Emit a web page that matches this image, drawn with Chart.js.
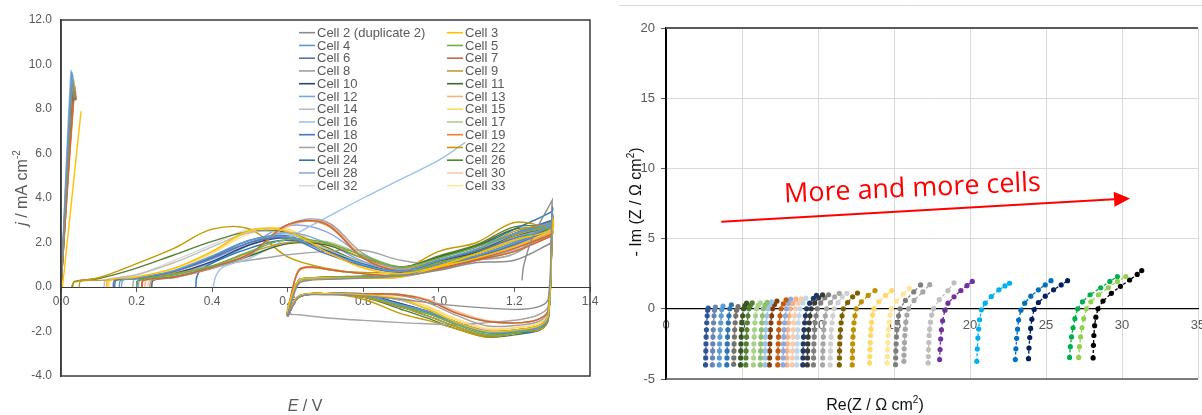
<!DOCTYPE html>
<html>
<head>
<meta charset="utf-8">
<script src="https://cdn.jsdelivr.net/npm/chart.js@4.4.1/dist/chart.umd.min.js"></script>
<style>
  body { margin:0; background:#fff; width:1202px; height:415px; overflow:hidden; position:relative; }
  #cvWrap { position:absolute; left:0; top:0; width:600px; height:415px; }
  #eisWrap { position:absolute; left:600px; top:0; width:602px; height:415px; }
</style>
</head>
<body>
<div id="cvWrap"><canvas id="cv" width="600" height="415"></canvas></div>
<div id="eisWrap"><canvas id="eis" width="602" height="415"></canvas></div>
<script>
// ---------- left: cyclic voltammograms ----------
const cvCells = ['Cell 2 (duplicate 2)','Cell 3','Cell 4','Cell 5','Cell 6','Cell 7','Cell 8','Cell 9','Cell 10','Cell 11','Cell 12','Cell 13','Cell 14','Cell 15','Cell 16','Cell 17','Cell 18','Cell 19','Cell 20','Cell 22','Cell 24','Cell 26','Cell 28','Cell 30','Cell 32','Cell 33'];
const cvColors = ['#8c8c8c','#ffc000','#5b9bd5','#70ad47','#5a74a8','#c8693a','#a0a0a0','#bf9b30','#264478','#43682b','#7ba7e0','#f4b183','#bfbfbf','#ffd966','#9dc3e6','#a9d18e','#4472c4','#ed7d31','#a5a5a5','#c49a00','#2e75b6','#548235','#8faadc','#f8cbad','#d9d9d9','#ffe699'];

// potentials (V) of the sweep segments
const gridF1 = [0.1,0.2,0.3,0.4,0.5,0.6,0.7,0.8,0.9,1.0,1.1,1.2,1.3];
const gridRev = [1.30,1.29,1.27,1.22,1.13,1.05,0.97,0.90,0.80,0.70,0.63,0.60];
const gridF2 = [0.61,0.63,0.66,0.72,0.80,0.90,1.00,1.10,1.20,1.30];

// initial spike near 0 V, [E, j]
const cvSpike = [
  [[0,0],[0.03,9.1],[0.036,8.6]], [[0.004,0],[0.053,7.9]], [[0,0],[0.028,9.6],[0.034,9.0]],
  [[0,0],[0.03,9.0],[0.036,8.5]], [[0,0],[0.03,8.9],[0.037,8.4]], [[0,0],[0.035,8.8],[0.04,8.4]],
  [[0,0],[0.03,9.3],[0.036,8.7]], [[0,0],[0.035,9.0],[0.04,8.5]], [[0,0],[0.033,8.9],[0.039,8.5]],
  [[0,0],[0.032,8.8],[0.038,8.4]], [[0,0],[0.028,9.4],[0.034,8.8]], [[0,0],[0.034,8.9],[0.04,8.5]],
  [[0,0],[0.03,9.2],[0.036,8.7]], [[0,0],[0.03,9.5],[0.037,8.9]], [[0,0],[0.026,9.7],[0.032,9.1]],
  [[0,0],[0.032,9.0],[0.038,8.6]], [[0,0],[0.03,9.0],[0.036,8.6]], [[0,0],[0.035,8.6],[0.04,8.4]],
  [[0,0],[0.03,9.1],[0.036,8.6]], [[0,0],[0.033,9.2],[0.039,8.7]], [[0,0],[0.03,9.4],[0.036,8.8]],
  [[0,0],[0.032,9.3],[0.037,8.8]], [[0,0],[0.029,9.5],[0.035,8.9]], [[0,0],[0.034,8.8],[0.04,8.4]],
  [[0,0],[0.03,9.3],[0.036,8.8]], [[0,0],[0.031,9.2],[0.037,8.7]]
];
// start of the first anodic sweep, [E, j]
const cvHead = [
  [[1.22,0.3],[1.225,1.0],[1.25,2.3]], [[0.121,0],[0.125,0.3]], [[0.154,0],[0.158,0.3]],
  [[0.2,0],[0.204,0.3]], [[0.138,0],[0.142,0.3]], [[0.213,0],[0.217,0.3]],
  [[0.235,0],[0.24,0.3]], [[0.048,0],[0.052,0.25]], [[0.2,0],[0.204,0.3]],
  [[0.24,0],[0.244,0.3]], [[0.16,0],[0.164,0.3]], [[0.222,0],[0.226,0.3]],
  [[0.114,0],[0.118,0.3]], [[0.125,0],[0.129,0.3]], [[0.403,0],[0.41,0.5],[0.43,0.9]],
  [[0.2,0],[0.205,0.3]], [[0.142,0],[0.146,0.3]], [[0.215,0],[0.219,0.3]],
  [[0.19,0],[0.195,0.35]], [[0.028,0],[0.035,0.22]], [[0.357,0],[0.36,0.5],[0.38,0.9]],
  [[0.03,0],[0.036,0.25]], [[0.205,0],[0.209,0.3]], [[0.23,0],[0.234,0.3]],
  [[0.12,0],[0.124,0.3]], [[0.128,0],[0.132,0.3]]
];
// j (mA cm-2) on gridF1
const cvFwd1 = [
  [null,null,null,null,null,null,null,null,null,null,null,null,3.9],
  [null,0.45,0.85,1.6,2.55,2.5,1.6,0.85,0.6,0.95,1.5,2.1,2.6],
  [null,0.4,0.75,1.4,2.1,2.25,1.6,1.0,0.7,1.2,1.7,2.4,2.9],
  [null,null,0.55,0.95,1.6,2.15,2.0,1.4,0.9,1.3,1.8,2.4,2.7],
  [null,0.38,0.7,1.3,2.0,2.2,1.5,0.95,0.7,1.2,1.6,2.2,2.6],
  [null,null,0.45,0.9,1.5,2.8,2.85,1.3,0.7,0.85,1.25,1.75,2.4],
  [null,null,0.42,0.85,1.45,2.8,2.95,1.5,0.8,0.9,1.3,2.0,2.8],
  [0.3,0.4,0.6,0.95,1.55,2.0,1.95,1.3,0.85,1.2,1.7,2.5,2.9],
  [null,null,0.6,1.15,1.9,2.2,1.65,1.0,0.7,1.15,1.6,2.3,2.9],
  [null,null,0.45,0.85,1.4,1.95,1.9,1.3,0.9,1.35,1.85,2.6,2.7],
  [null,0.4,0.7,1.25,2.0,2.45,2.0,1.15,0.75,1.1,1.55,2.2,2.8],
  [null,null,0.42,0.85,1.45,2.75,2.85,1.35,0.72,0.85,1.25,1.75,2.4],
  [null,0.55,1.1,1.8,2.45,2.4,1.7,1.1,0.85,1.1,1.5,2.2,2.7],
  [null,0.45,0.85,1.55,2.5,2.6,1.7,0.9,0.6,0.95,1.45,2.0,2.5],
  [null,null,null,null,1.3,2.2,3.1,4.0,4.85,5.7,null,null,null],
  [null,null,0.5,0.9,1.45,1.95,2.05,1.45,0.9,1.25,1.7,2.3,2.6],
  [null,0.38,0.7,1.35,2.1,2.3,1.6,0.95,0.65,1.2,1.7,2.4,3.0],
  [null,null,0.45,0.88,1.5,2.8,2.8,1.3,0.7,0.85,1.25,1.75,2.35],
  [null,null,0.65,0.95,1.2,1.45,1.6,1.65,1.2,1.0,1.2,1.5,3.0],
  [0.42,1.05,1.75,2.6,2.6,1.35,0.85,0.65,0.75,1.6,2.0,2.9,2.7],
  [null,null,null,null,1.75,2.1,1.7,1.05,0.7,1.3,1.8,2.6,3.4],
  [0.38,0.85,1.45,2.05,2.5,2.45,1.8,1.1,0.85,1.4,1.9,2.7,2.75],
  [null,null,0.6,1.1,1.9,2.75,2.5,1.4,0.8,1.1,1.5,2.1,2.6],
  [null,null,0.42,0.82,1.4,2.7,2.9,1.4,0.75,0.85,1.25,1.8,2.45],
  [null,0.55,1.2,1.9,2.6,2.35,1.6,1.0,0.8,1.1,1.5,2.2,2.7],
  [null,0.45,0.8,1.5,2.4,2.55,1.75,0.95,0.65,0.95,1.4,1.95,2.45]
];
// j on gridRev
const cvRev = [
  [3.9,-0.5,-0.85,-1.0,-0.95,-0.85,-0.7,-0.55,-0.4,-0.35,-0.45,-1.3],
  [3.1,-1.2,-1.7,-1.9,-2.0,-1.6,-1.0,-0.55,-0.35,-0.3,-0.4,-1.2],
  [3.3,-1.3,-1.8,-1.95,-2.05,-1.6,-1.1,-0.8,-0.35,-0.3,-0.45,-1.25],
  [2.9,-1.3,-1.8,-2.0,-2.15,-1.7,-1.2,-0.85,-0.4,-0.3,-0.45,-1.2],
  [2.8,-1.2,-1.7,-1.9,-2.0,-1.6,-1.1,-0.8,-0.35,-0.3,-0.4,-1.25],
  [2.6,-1.0,-1.4,-1.6,-1.55,-1.2,-0.6,-0.35,-0.3,-0.3,-0.45,-1.3],
  [2.9,-1.0,-1.5,-1.7,-1.75,-1.3,-0.7,-0.4,-0.3,-0.3,-0.45,-1.3],
  [3.1,-1.3,-1.8,-2.0,-2.2,-1.8,-1.3,-0.9,-0.45,-0.3,-0.4,-1.2],
  [3.1,-1.3,-1.8,-1.95,-2.05,-1.6,-1.1,-0.75,-0.35,-0.3,-0.45,-1.3],
  [2.9,-1.3,-1.8,-2.0,-2.2,-1.8,-1.3,-0.9,-0.45,-0.3,-0.4,-1.2],
  [3.0,-1.2,-1.7,-1.9,-2.0,-1.6,-1.1,-0.75,-0.35,-0.3,-0.45,-1.25],
  [2.5,-1.0,-1.4,-1.6,-1.55,-1.15,-0.6,-0.35,-0.3,-0.3,-0.45,-1.3],
  [2.8,-1.2,-1.7,-1.9,-1.95,-1.6,-1.0,-0.6,-0.35,-0.3,-0.4,-1.2],
  [2.7,-1.1,-1.6,-1.8,-1.9,-1.5,-0.9,-0.5,-0.35,-0.3,-0.4,-1.2],
  [],
  [2.7,-1.2,-1.7,-1.9,-2.1,-1.7,-1.2,-0.85,-0.4,-0.3,-0.4,-1.2],
  [3.2,-1.3,-1.8,-2.0,-2.1,-1.7,-1.15,-0.8,-0.35,-0.3,-0.45,-1.3],
  [2.5,-1.0,-1.4,-1.6,-1.55,-1.2,-0.6,-0.35,-0.3,-0.3,-0.45,-1.3],
  [3.0,-0.8,-1.2,-1.45,-1.6,-1.7,-1.65,-1.6,-1.5,-1.38,-1.25,-1.15],
  [3.0,-1.4,-1.9,-2.0,-2.25,-1.9,-1.5,-1.2,-0.55,-0.3,-0.4,-1.1],
  [3.6,-1.4,-1.9,-2.05,-2.1,-1.7,-1.2,-0.9,-0.4,-0.3,-0.45,-1.3],
  [2.9,-1.4,-1.9,-2.1,-2.25,-1.9,-1.4,-1.0,-0.45,-0.3,-0.4,-1.2],
  [2.8,-1.2,-1.7,-1.9,-2.0,-1.6,-1.0,-0.6,-0.35,-0.3,-0.45,-1.25],
  [2.6,-1.0,-1.4,-1.6,-1.5,-1.1,-0.55,-0.32,-0.3,-0.3,-0.45,-1.3],
  [2.9,-1.2,-1.7,-1.95,-2.0,-1.6,-1.0,-0.6,-0.35,-0.3,-0.4,-1.2],
  [2.6,-1.1,-1.6,-1.8,-1.85,-1.45,-0.85,-0.5,-0.35,-0.3,-0.4,-1.2]
];
// j on gridF2 (second anodic sweep)
const cvFwd2 = [
  [-0.7,0.15,0.3,0.35,0.4,0.5,0.75,1.1,1.2,2.0],
  [-0.4,0.3,0.4,0.4,0.4,0.45,0.9,1.3,1.8,2.5],
  [-0.5,0.3,0.4,0.4,0.4,0.5,1.0,1.4,2.0,2.8],
  [-0.45,0.3,0.4,0.45,0.45,0.55,1.1,1.5,2.1,2.7],
  [-0.5,0.3,0.4,0.4,0.4,0.5,0.95,1.35,1.9,2.6],
  [-0.3,0.75,0.9,0.75,0.6,0.5,0.8,1.2,1.6,2.3],
  [-0.5,0.3,0.4,0.4,0.4,0.45,0.8,1.2,1.7,2.5],
  [-0.4,0.3,0.4,0.45,0.45,0.55,1.1,1.5,2.3,2.8],
  [-0.5,0.3,0.4,0.4,0.4,0.5,1.0,1.4,2.0,2.7],
  [-0.45,0.3,0.4,0.45,0.45,0.55,1.1,1.55,2.3,2.7],
  [-0.5,0.3,0.4,0.4,0.4,0.5,0.95,1.35,1.95,2.7],
  [-0.3,0.75,0.9,0.75,0.6,0.5,0.8,1.2,1.6,2.3],
  [-0.5,0.3,0.4,0.4,0.4,0.5,0.9,1.3,1.9,2.6],
  [-0.4,0.3,0.4,0.4,0.4,0.45,0.9,1.3,1.8,2.5],
  [],
  [-0.45,0.3,0.4,0.45,0.45,0.55,1.05,1.45,2.1,2.6],
  [-0.5,0.3,0.4,0.4,0.4,0.5,1.0,1.4,2.0,2.8],
  [-0.3,0.8,0.9,0.75,0.6,0.5,0.8,1.2,1.6,2.3],
  [-0.5,0.2,0.35,0.4,0.45,0.55,0.9,1.2,1.5,2.6],
  [-0.4,0.3,0.4,0.4,0.45,0.6,1.2,1.6,2.4,2.8],
  [-0.5,0.3,0.4,0.4,0.4,0.5,1.05,1.5,2.4,3.0],
  [-0.45,0.3,0.4,0.45,0.5,0.6,1.2,1.65,2.4,2.8],
  [-0.5,0.3,0.4,0.4,0.4,0.5,0.9,1.3,1.85,2.5],
  [-0.3,0.7,0.85,0.75,0.6,0.5,0.8,1.2,1.65,2.35],
  [-0.5,0.3,0.4,0.4,0.4,0.5,0.9,1.3,1.9,2.6],
  [-0.4,0.3,0.4,0.4,0.4,0.45,0.9,1.3,1.8,2.5]
];
const cvTail = { 'Cell 16': [[1.07,6.5]] };

// ---------- right: Nyquist plots ----------
const eisColors = ['#2f5597','#6a85b5','#5b9bd5','#2e75b6','#767171','#385723','#548235','#a9d18e','#8cbf6e','#9dc3e6','#843c0c','#c55a11','#8faadc','#f4b183','#f8cbad','#bdd7ee','#1f3864','#3a3a3a','#7f7f7f','#a6a6a6','#d0d0d0','#7f6000','#bf9000','#ffd966','#ffe699','#7f7f7f','#a6a6a6','#bfbfbf','#7030a0','#00b0f0','#0070c0','#002060','#00b050','#92d050','#000000'];
const eisRe = [
  [2.60,2.61,2.62,2.63,2.64,2.66,2.68,2.71,2.74,2.78],
  [3.05,3.06,3.07,3.08,3.09,3.11,3.13,3.16,3.19,3.25],
  [3.50,3.51,3.52,3.53,3.55,3.57,3.60,3.63,3.67,3.75],
  [4.00,4.01,4.02,4.03,4.05,4.07,4.10,4.14,4.19,4.30],
  [4.45,4.46,4.47,4.48,4.50,4.52,4.55,4.59,4.64,4.74],
  [4.90,4.91,4.92,4.93,4.95,4.97,5.00,5.04,5.10,5.19,5.30],
  [5.25,5.26,5.27,5.28,5.30,5.32,5.35,5.39,5.45,5.55,5.67],
  [5.75,5.76,5.77,5.78,5.80,5.82,5.85,5.89,5.95,6.06,6.20],
  [6.20,6.21,6.22,6.23,6.25,6.27,6.30,6.34,6.40,6.52,6.65],
  [6.50,6.51,6.52,6.53,6.55,6.57,6.60,6.64,6.70,6.82,6.95],
  [6.80,6.81,6.82,6.83,6.85,6.87,6.90,6.95,7.01,7.14,7.30],
  [7.35,7.36,7.37,7.38,7.40,7.42,7.45,7.50,7.57,7.72,7.90],
  [7.70,7.71,7.72,7.73,7.75,7.77,7.80,7.85,7.92,8.05,8.20],
  [7.95,7.96,7.97,7.98,8.00,8.02,8.05,8.10,8.17,8.35,8.55],
  [8.30,8.31,8.32,8.33,8.35,8.37,8.40,8.45,8.52,8.70,8.90],
  [8.60,8.61,8.62,8.63,8.65,8.67,8.70,8.75,8.82,9.00,9.20],
  [9.00,9.01,9.02,9.03,9.05,9.08,9.12,9.17,9.25,9.45,9.70,9.90],
  [9.30,9.31,9.32,9.33,9.35,9.38,9.42,9.47,9.55,9.78,10.05,10.30],
  [9.70,9.71,9.72,9.73,9.75,9.78,9.82,9.87,9.95,10.18,10.45,10.70],
  [10.30,10.31,10.32,10.33,10.35,10.38,10.42,10.48,10.56,10.82,11.10,11.40],
  [10.80,10.81,10.82,10.83,10.85,10.88,10.92,10.98,11.06,11.32,11.60,11.90],
  [11.40,11.41,11.42,11.43,11.45,11.48,11.52,11.58,11.67,11.95,12.28,12.60],
  [12.25,12.26,12.27,12.28,12.30,12.33,12.37,12.43,12.52,12.85,13.30,13.75],
  [13.40,13.41,13.42,13.44,13.46,13.49,13.53,13.59,13.68,14.00,14.45,14.85],
  [14.55,14.56,14.57,14.59,14.61,14.64,14.68,14.74,14.83,15.15,15.60,16.00],
  [15.10,15.11,15.12,15.14,15.16,15.19,15.23,15.30,15.40,15.75,16.30,16.75],
  [15.65,15.66,15.67,15.69,15.71,15.74,15.78,15.85,15.95,16.32,16.90,17.35],
  [17.25,17.26,17.27,17.29,17.31,17.35,17.40,17.48,17.60,17.98,18.55,18.95],
  [18.00,18.03,18.07,18.12,18.20,18.35,18.55,18.95,19.40,19.80,20.15],
  [20.45,20.48,20.52,20.57,20.63,20.75,21.00,21.40,21.90,22.30,22.60],
  [22.98,23.02,23.07,23.13,23.20,23.35,23.60,24.00,24.50,24.95,25.33],
  [23.85,23.88,23.93,23.99,24.07,24.22,24.50,24.95,25.50,26.00,26.42],
  [26.55,26.60,26.68,26.78,26.90,27.08,27.40,27.90,28.60,29.20,29.70],
  [27.15,27.20,27.28,27.37,27.48,27.65,27.95,28.45,29.10,29.70,30.25],
  [28.10,28.12,28.15,28.20,28.28,28.42,28.75,29.30,29.90,30.50,31.00,31.30]
];
const eisIm = [
  [-4.0,-3.5,-3.0,-2.5,-2.0,-1.5,-1.0,-0.5,-0.1,0.05],
  [-4.0,-3.5,-3.0,-2.5,-2.0,-1.5,-1.0,-0.5,-0.1,0.12],
  [-4.0,-3.5,-3.0,-2.5,-2.0,-1.5,-1.0,-0.5,-0.05,0.2],
  [-4.0,-3.5,-3.0,-2.5,-2.0,-1.5,-1.0,-0.5,0.0,0.28],
  [-3.95,-3.5,-3.0,-2.5,-2.0,-1.5,-1.0,-0.5,-0.1,0.15],
  [-4.0,-3.5,-3.0,-2.5,-2.0,-1.5,-1.0,-0.5,0.0,0.22,0.4],
  [-4.0,-3.5,-3.0,-2.5,-2.0,-1.5,-1.0,-0.5,0.0,0.23,0.42],
  [-4.0,-3.5,-3.0,-2.5,-2.0,-1.5,-1.0,-0.5,0.0,0.24,0.42],
  [-4.0,-3.5,-3.0,-2.5,-2.0,-1.5,-1.0,-0.5,0.0,0.26,0.46],
  [-4.0,-3.5,-3.0,-2.5,-2.0,-1.5,-1.0,-0.5,0.0,0.28,0.5],
  [-4.0,-3.5,-3.0,-2.5,-2.0,-1.5,-1.0,-0.5,0.0,0.3,0.55],
  [-4.0,-3.5,-3.0,-2.5,-2.0,-1.5,-1.0,-0.5,0.0,0.35,0.64],
  [-4.0,-3.5,-3.0,-2.5,-2.0,-1.5,-1.0,-0.5,0.0,0.38,0.69],
  [-4.0,-3.5,-3.0,-2.5,-2.0,-1.5,-1.0,-0.5,0.0,0.38,0.69],
  [-4.0,-3.5,-3.0,-2.5,-2.0,-1.5,-1.0,-0.5,0.0,0.4,0.7],
  [-4.0,-3.5,-3.0,-2.5,-2.0,-1.5,-1.0,-0.5,0.0,0.42,0.76],
  [-4.0,-3.5,-3.0,-2.5,-2.0,-1.5,-1.0,-0.5,0.0,0.4,0.75,0.95],
  [-4.0,-3.5,-3.0,-2.5,-2.0,-1.5,-1.0,-0.5,0.0,0.42,0.78,1.0],
  [-4.0,-3.5,-3.0,-2.5,-2.0,-1.5,-1.0,-0.5,0.0,0.42,0.78,1.0],
  [-4.0,-3.5,-3.0,-2.5,-2.0,-1.5,-1.0,-0.5,0.0,0.45,0.85,1.1],
  [-4.0,-3.5,-3.0,-2.5,-2.0,-1.5,-1.0,-0.5,0.0,0.45,0.85,1.1],
  [-4.0,-3.5,-3.0,-2.5,-2.0,-1.5,-1.0,-0.5,0.0,0.45,0.85,1.12],
  [-4.0,-3.5,-3.0,-2.5,-2.0,-1.5,-1.0,-0.5,0.0,0.5,0.95,1.3],
  [-3.86,-3.4,-2.9,-2.4,-1.9,-1.45,-0.95,-0.45,0.0,0.5,0.95,1.3],
  [-3.86,-3.4,-2.9,-2.4,-1.9,-1.45,-0.95,-0.45,0.0,0.55,1.05,1.45],
  [-3.98,-3.5,-3.0,-2.5,-2.0,-1.5,-1.0,-0.5,0.0,0.6,1.2,1.7],
  [-3.74,-3.3,-2.85,-2.4,-1.9,-1.45,-0.95,-0.45,0.0,0.6,1.2,1.72],
  [-3.86,-3.4,-2.9,-2.4,-1.9,-1.45,-0.95,-0.45,0.0,0.65,1.3,1.85],
  [-3.62,-2.9,-2.15,-1.5,-0.85,-0.1,0.4,0.85,1.3,1.65,1.95],
  [-3.74,-2.86,-2.08,-1.44,-0.78,-0.07,0.4,0.87,1.35,1.63,1.82],
  [-3.62,-2.85,-2.1,-1.45,-0.8,-0.1,0.4,0.9,1.35,1.7,2.0],
  [-3.55,-2.8,-2.05,-1.4,-0.75,-0.05,0.45,0.9,1.35,1.7,2.0],
  [-3.46,-2.7,-2.0,-1.35,-0.7,0.0,0.5,1.0,1.5,1.95,2.3],
  [-3.46,-2.7,-2.0,-1.35,-0.7,0.0,0.5,1.0,1.5,1.95,2.3],
  [-3.5,-2.6,-1.9,-1.2,-0.6,0.0,0.55,1.1,1.6,2.05,2.45,2.72]
];
// annotation, in data units of the Nyquist plot
const noteText = 'More and more cells';
const noteAt = [7.8, 7.58];
const arrowFrom = [3.64, 6.2];
const arrowTo = [30.53, 7.86];

const FAMILY = '"Liberation Sans", Arial, Helvetica, sans-serif';
Chart.defaults.font.family = FAMILY;

function richText(ctx, parts, x, y, size, color, angle) {
  ctx.save();
  ctx.translate(x, y);
  if (angle) ctx.rotate(angle);
  ctx.fillStyle = color;
  ctx.textBaseline = 'alphabetic';
  const fontOf = p => (p.it ? 'italic ' : '') + (p.sup ? Math.round(size * 0.62) : size) + 'px ' + FAMILY;
  let w = 0;
  parts.forEach(p => { ctx.font = fontOf(p); w += ctx.measureText(p.t).width; });
  let cx = -w / 2;
  parts.forEach(p => {
    ctx.font = fontOf(p);
    ctx.fillText(p.t, cx, size * 0.36 - (p.sup ? size * 0.4 : 0));
    cx += ctx.measureText(p.t).width;
  });
  ctx.restore();
}

// keep the plot box where the reference has it (no room reserved for edge labels)
const noEdgePad = s => { s.paddingLeft = 0; s.paddingRight = 0; s.paddingTop = 0; s.paddingBottom = 0; };

const cvDatasets = cvCells.map((name, i) => {
  const pts = cvSpike[i].map(p => ({x: p[0], y: p[1]}));
  pts.push({x: cvSpike[i][cvSpike[i].length - 1][0], y: null});
  cvHead[i].forEach(p => pts.push({x: p[0], y: p[1]}));
  cvFwd1[i].forEach((j, k) => { if (j !== null) pts.push({x: gridF1[k], y: j}); });
  cvRev[i].forEach((j, k) => pts.push({x: gridRev[k], y: j}));
  cvFwd2[i].forEach((j, k) => pts.push({x: gridF2[k], y: j}));
  (cvTail[name] || []).forEach(p => pts.push({x: p[0], y: p[1]}));
  return { label: name, data: pts, showLine: true, borderColor: cvColors[i], backgroundColor: cvColors[i],
           borderWidth: 1.4, pointRadius: 0, tension: 0.35 };
});

const cvDecor = {
  id: 'cvDecor',
  afterDraw(chart) {
    const ctx = chart.ctx, a = chart.chartArea;
    ctx.save();
    ctx.strokeStyle = '#3a3a3a'; ctx.lineWidth = 1.5;
    ctx.strokeRect(a.left, a.top, a.right - a.left, a.bottom - a.top);
    // legend, two columns inside the plot
    ctx.font = '13px ' + FAMILY;
    ctx.textBaseline = 'middle';
    cvCells.forEach((name, i) => {
      const x0 = i % 2 ? 447 : 299, y = 32.7 + Math.floor(i / 2) * 12.75;
      ctx.strokeStyle = cvColors[i]; ctx.lineWidth = 1.6;
      ctx.beginPath(); ctx.moveTo(x0, y); ctx.lineTo(x0 + 16, y); ctx.stroke();
      ctx.fillStyle = '#595959';
      ctx.fillText(name, x0 + 18, y + 0.5);
    });
    ctx.restore();
    richText(ctx, [{t: 'j', it: true}, {t: ' / mA cm'}, {t: '-2', sup: true}], 21, 188, 16, '#595959', -Math.PI / 2);
    richText(ctx, [{t: 'E', it: true}, {t: ' / V'}], 305, 405, 16, '#595959');
  }
};

new Chart(document.getElementById('cv'), {
  type: 'scatter',
  data: { datasets: cvDatasets },
  options: {
    responsive: false, animation: false,
    layout: { padding: { left: 0, top: 20, right: 10, bottom: 39 } },
    plugins: { legend: { display: false }, tooltip: { enabled: false } },
    scales: {
      x: { type: 'linear', min: 0, max: 1.4, position: { y: 0 },
           ticks: { stepSize: 0.2, callback: v => v.toFixed(1), color: '#595959', font: { size: 12 }, padding: 3, maxRotation: 0 },
           grid: { drawOnChartArea: false, tickLength: 4, tickColor: '#595959' },
           border: { color: '#3a3a3a', width: 1 },
           afterFit: noEdgePad },
      y: { min: -4, max: 12,
           ticks: { stepSize: 2, callback: v => v.toFixed(1), color: '#595959', font: { size: 12 }, padding: 9 },
           grid: { display: false, drawTicks: false },
           border: { color: '#3a3a3a', width: 1.5 },
           afterFit: s => { s.width = 61; noEdgePad(s); } }
    }
  },
  plugins: [cvDecor]
});

const eisDatasets = eisRe.map((re, i) => ({
  data: re.map((r, k) => ({x: r, y: eisIm[i][k]})),
  showLine: true, borderColor: eisColors[i], backgroundColor: eisColors[i],
  borderWidth: 1.3, borderDash: [3, 2], pointRadius: 2.6, pointBorderWidth: 0, tension: 0
}));

const eisDecor = {
  id: 'eisDecor',
  afterDraw(chart) {
    const ctx = chart.ctx, a = chart.chartArea, sx = chart.scales.x, sy = chart.scales.y;
    ctx.save();
    ctx.strokeStyle = '#d9d9d9'; ctx.lineWidth = 1;
    ctx.beginPath(); ctx.moveTo(19, 5.5); ctx.lineTo(602, 5.5); ctx.stroke();
    ctx.strokeStyle = '#595959'; ctx.lineWidth = 2;
    ctx.beginPath(); ctx.moveTo(a.left, a.top); ctx.lineTo(a.right, a.top); ctx.stroke();
    ctx.lineWidth = 1.5;
    ctx.beginPath(); ctx.moveTo(a.left, a.bottom); ctx.lineTo(a.right, a.bottom); ctx.stroke();
    // red annotation
    const px = sx.getPixelForValue(noteAt[0]), py = sy.getPixelForValue(noteAt[1]);
    ctx.translate(px, py);
    ctx.rotate(-2.6 * Math.PI / 180);
    ctx.font = '100px "Open Sans", ' + FAMILY;
    const fs = 100 * 257 / ctx.measureText(noteText).width;
    ctx.font = fs.toFixed(1) + 'px "Open Sans", ' + FAMILY;
    ctx.fillStyle = '#ff0000';
    ctx.textBaseline = 'alphabetic';
    ctx.fillText(noteText, 0, 0);
    ctx.restore();
    const x1 = sx.getPixelForValue(arrowFrom[0]), y1 = sy.getPixelForValue(arrowFrom[1]);
    const x2 = sx.getPixelForValue(arrowTo[0]), y2 = sy.getPixelForValue(arrowTo[1]);
    const ang = Math.atan2(y2 - y1, x2 - x1), hl = 16, hw = 7.5;
    const bx = x2 - hl * Math.cos(ang), by = y2 - hl * Math.sin(ang);
    ctx.save();
    ctx.strokeStyle = '#ff0000'; ctx.fillStyle = '#ff0000'; ctx.lineWidth = 2;
    ctx.beginPath(); ctx.moveTo(x1, y1); ctx.lineTo(bx, by); ctx.stroke();
    ctx.beginPath();
    ctx.moveTo(x2, y2);
    ctx.lineTo(bx + hw * Math.sin(ang), by - hw * Math.cos(ang));
    ctx.lineTo(bx - hw * Math.sin(ang), by + hw * Math.cos(ang));
    ctx.closePath(); ctx.fill();
    ctx.restore();
    richText(ctx, [{t: '- Im (Z / \u03A9 cm'}, {t: '2', sup: true}, {t: ')'}], 35, 202, 16, '#111', -Math.PI / 2);
    richText(ctx, [{t: 'Re(Z / \u03A9 cm'}, {t: '2', sup: true}, {t: ')'}], 275, 404, 16, '#111');
  }
};

new Chart(document.getElementById('eis'), {
  type: 'scatter',
  data: { datasets: eisDatasets },
  options: {
    responsive: false, animation: false,
    layout: { padding: { left: 0, top: 28, right: 1, bottom: 36 } },
    plugins: { legend: { display: false }, tooltip: { enabled: false } },
    scales: {
      x: { type: 'linear', min: 0, max: 35, position: { y: 0 },
           ticks: { stepSize: 5, color: '#595959', font: { size: 13 }, padding: 9, maxRotation: 0 },
           grid: { color: '#d9d9d9', drawTicks: false },
           border: { color: '#000', width: 1.3 },
           afterFit: noEdgePad },
      y: { min: -5, max: 20,
           ticks: { stepSize: 5, color: '#595959', font: { size: 13 }, padding: 6 },
           grid: { color: '#d9d9d9', tickLength: 5, tickColor: '#595959' },
           border: { color: '#000', width: 2 },
           afterFit: s => { s.width = 66; noEdgePad(s); } }
    }
  },
  plugins: [eisDecor]
});
</script>
</body>
</html>
